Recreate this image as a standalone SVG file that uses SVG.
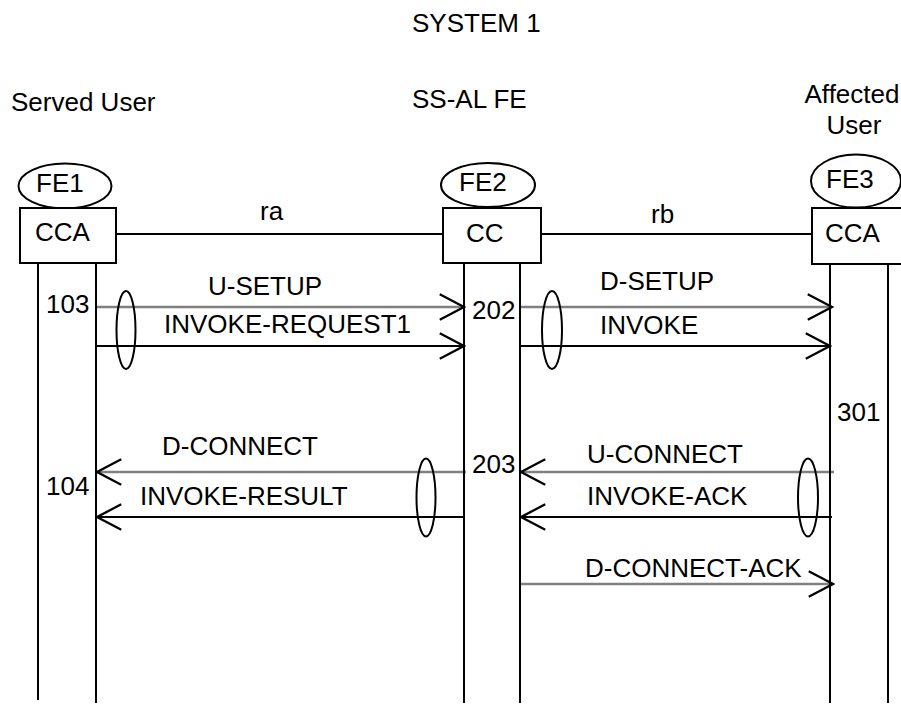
<svg xmlns="http://www.w3.org/2000/svg" width="901" height="705" viewBox="0 0 901 705">
<style>
text{font-family:"Liberation Sans",Arial,sans-serif;font-size:26px;fill:#000}
.mid{text-anchor:middle}
.box{fill:#fff;stroke:#000;stroke-width:2}
.ell{fill:#fff;stroke:#000;stroke-width:2}
.life{stroke:#000;stroke-width:2;fill:none}
.blk{stroke:#000;stroke-width:2;fill:none;marker-end:url(#arr)}
.gry{stroke:#808080;stroke-width:2.6;fill:none;marker-end:url(#arr)}
.grp{fill:none;stroke:#000;stroke-width:2}
</style>
<defs>
<marker id="arr" markerUnits="userSpaceOnUse" markerWidth="30" markerHeight="30" refX="0" refY="0" viewBox="-24 -13 26 26" orient="auto">
<path d="M-21,-11 L0,0 L-21,11" fill="none" stroke="#000" stroke-width="2"/>
</marker>
</defs>
<rect width="901" height="705" fill="#fff"/>
<text x="412" y="32">SYSTEM 1</text>
<text x="11" y="111">Served User</text>
<text x="412" y="108">SS-AL FE</text>
<text class="mid" x="852" y="103">Affected</text>
<text class="mid" x="854" y="134">User</text>
<g id="connectors">
<line x1="116" y1="234" x2="443" y2="234" class="life"/>
<line x1="541" y1="234" x2="812" y2="234" class="life"/>
<text x="260" y="220">ra</text>
<text x="651" y="223">rb</text>
<line x1="97" y1="307" x2="464" y2="307" class="gry"/>
<line x1="96" y1="346" x2="464" y2="346" class="blk"/>
<line x1="520" y1="307" x2="832" y2="307" class="gry"/>
<line x1="520" y1="346" x2="830" y2="346" class="blk"/>
<line x1="466" y1="472" x2="97" y2="472" class="gry"/>
<line x1="464" y1="517" x2="97" y2="517" class="blk"/>
<line x1="834" y1="472" x2="521" y2="472" class="gry"/>
<line x1="832" y1="517" x2="521" y2="517" class="blk"/>
<line x1="521" y1="584" x2="833" y2="584" class="gry"/>
<ellipse cx="126" cy="330" rx="9.5" ry="39" class="grp"/>
<ellipse cx="552" cy="330" rx="10" ry="39" class="grp"/>
<ellipse cx="426" cy="497.5" rx="9.5" ry="39" class="grp"/>
<ellipse cx="808" cy="497.5" rx="10" ry="39" class="grp"/>
<text x="208" y="295">U-SETUP</text>
<text x="164" y="333">INVOKE-REQUEST1</text>
<text x="600" y="290">D-SETUP</text>
<text x="600" y="334">INVOKE</text>
<text x="162" y="455">D-CONNECT</text>
<text x="140" y="505">INVOKE-RESULT</text>
<text x="587" y="463">U-CONNECT</text>
<text x="587" y="505">INVOKE-ACK</text>
<text x="585" y="577">D-CONNECT-ACK</text>
</g>
<g id="fe1">
<line x1="38" y1="263" x2="38" y2="700" class="life"/>
<line x1="96" y1="263" x2="96" y2="703" class="life"/>
<ellipse cx="65" cy="186" rx="46.5" ry="22.5" class="ell"/>
<text x="36" y="192">FE1</text>
<rect x="20" y="208" width="96" height="55" class="box"/>
<text x="35" y="241">CCA</text>
<text x="46" y="313">103</text>
<text x="46" y="495">104</text>
</g>
<g id="fe2">
<line x1="464" y1="263" x2="464" y2="703" class="life"/>
<line x1="520" y1="263" x2="520" y2="703" class="life"/>
<ellipse cx="488" cy="185" rx="47" ry="22" class="ell"/>
<text x="459" y="191">FE2</text>
<rect x="443" y="208" width="98" height="55" class="box"/>
<text x="466" y="242">CC</text>
<text x="472" y="319">202</text>
<text x="472" y="473">203</text>
</g>
<g id="fe3">
<line x1="830" y1="264" x2="830" y2="703" class="life"/>
<line x1="888" y1="264" x2="888" y2="703" class="life"/>
<ellipse cx="856" cy="181" rx="45" ry="26.5" class="ell"/>
<text x="826" y="188">FE3</text>
<rect x="812" y="208" width="98" height="56" class="box"/>
<text x="825" y="242">CCA</text>
<text x="837" y="421">301</text>
</g>
</svg>
